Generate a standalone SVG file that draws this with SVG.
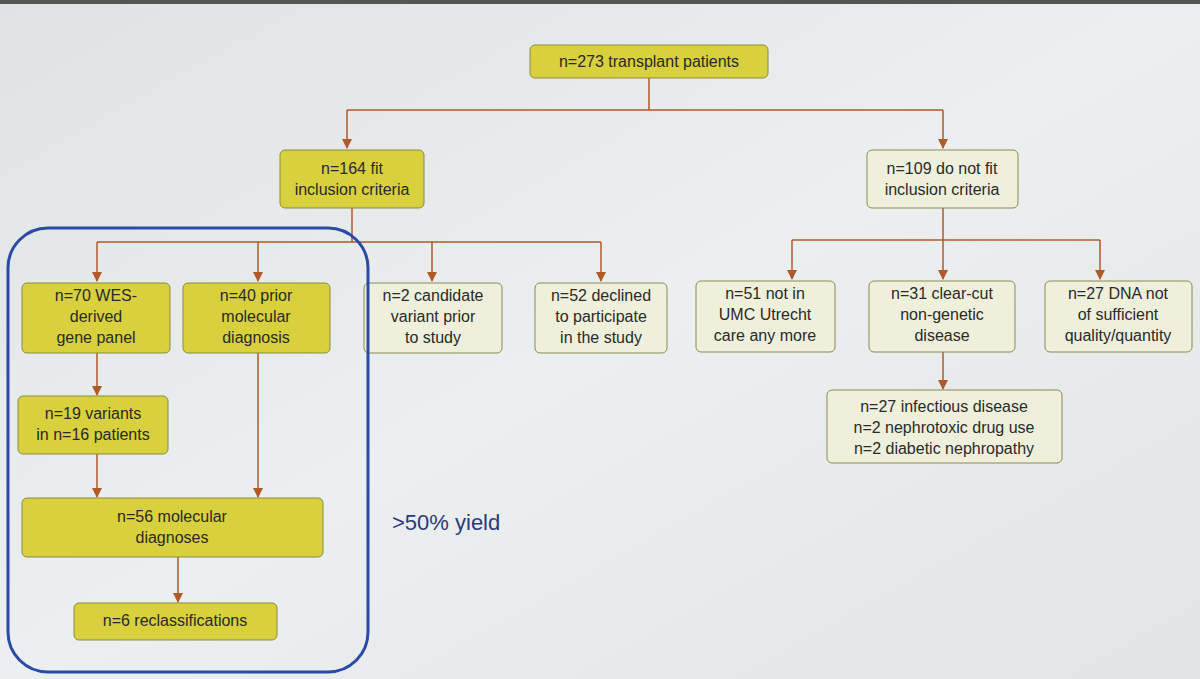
<svg xmlns="http://www.w3.org/2000/svg" width="1200" height="679" viewBox="0 0 1200 679">
<defs>
<linearGradient id="bg" x1="0" y1="0" x2="1" y2="1"><stop offset="0" stop-color="#dfe3e3"/><stop offset="0.5" stop-color="#eceff0"/><stop offset="1" stop-color="#e2e5e6"/></linearGradient>
<marker id="ar" viewBox="0 0 10 10" refX="9" refY="5" markerWidth="7" markerHeight="7" orient="auto"><path d="M0,0 L10,5 L0,10 z" fill="#b05a2a"/></marker>
<style>
.y{fill:#d8d03c;stroke:#8a8a40;stroke-width:1}
.p{fill:#eef0db;stroke:#8a8a50;stroke-width:1}
text{font-family:"Liberation Sans",Arial,sans-serif;font-size:16px;fill:#2a2a2a;text-anchor:middle}
.c path{fill:none;stroke:#b05a2a;stroke-width:1.5}
.c .a{marker-end:url(#ar)}
</style>
</defs>
<rect width="1200" height="679" fill="url(#bg)"/>
<rect x="0" y="0" width="1200" height="4" fill="#555"/>
<g class="c">
<path d="M649,78 V110 M347,110 H943"/>
<path class="a" d="M347,110 V148"/><path class="a" d="M943,110 V148"/>
<path d="M352,208 V242 M97,242 H601"/>
<path class="a" d="M97,242 V281"/><path class="a" d="M258,242 V281"/><path class="a" d="M432,242 V281"/><path class="a" d="M601,242 V281"/>
<path d="M943,208 V240 M792,240 H1100"/>
<path class="a" d="M792,240 V279"/><path class="a" d="M943,240 V279"/><path class="a" d="M1100,240 V279"/>
<path class="a" d="M943,352 V389"/>
<path class="a" d="M97,353 V395"/>
<path class="a" d="M97,454 V497"/><path class="a" d="M258,353 V497"/>
<path class="a" d="M178,557 V602"/>
</g>
<g id="n273"><rect class="y" x="530" y="45" width="238" height="33" rx="5"/><text x="649" y="67">n=273 transplant patients</text></g>
<g id="n164"><rect class="y" x="280" y="150" width="144" height="58" rx="5"/><text x="352" y="174">n=164 fit</text><text x="352" y="195">inclusion criteria</text></g>
<g id="n109"><rect class="p" x="867" y="150" width="151" height="58" rx="5"/><text x="942" y="174">n=109 do not fit</text><text x="942" y="195">inclusion criteria</text></g>
<g id="n70"><rect class="y" x="22" y="283" width="148" height="70" rx="5"/><text x="96" y="301">n=70 WES-</text><text x="96" y="322">derived</text><text x="96" y="343">gene panel</text></g>
<g id="n40"><rect class="y" x="183" y="283" width="147" height="70" rx="5"/><text x="256" y="301">n=40 prior</text><text x="256" y="322">molecular</text><text x="256" y="343">diagnosis</text></g>
<g id="n2"><rect class="p" x="364" y="283" width="138" height="70" rx="5"/><text x="433" y="301">n=2 candidate</text><text x="433" y="322">variant prior</text><text x="433" y="343">to study</text></g>
<g id="n52"><rect class="p" x="535" y="283" width="132" height="70" rx="5"/><text x="601" y="301">n=52 declined</text><text x="601" y="322">to participate</text><text x="601" y="343">in the study</text></g>
<g id="n51"><rect class="p" x="696" y="281" width="139" height="71" rx="5"/><text x="765" y="299">n=51 not in</text><text x="765" y="320">UMC Utrecht</text><text x="765" y="341">care any more</text></g>
<g id="n31"><rect class="p" x="869" y="281" width="146" height="71" rx="5"/><text x="942" y="299">n=31 clear-cut</text><text x="942" y="320">non-genetic</text><text x="942" y="341">disease</text></g>
<g id="n27"><rect class="p" x="1045" y="281" width="147" height="71" rx="5"/><text x="1118" y="299">n=27 DNA not</text><text x="1118" y="320">of sufficient</text><text x="1118" y="341">quality/quantity</text></g>
<g id="ninf"><rect class="p" x="827" y="390" width="235" height="73" rx="5"/><text x="944" y="412">n=27 infectious disease</text><text x="944" y="433">n=2 nephrotoxic drug use</text><text x="944" y="454">n=2 diabetic nephropathy</text></g>
<g id="n19"><rect class="y" x="18" y="396" width="150" height="58" rx="5"/><text x="93" y="419" >n=19 variants</text><text x="93" y="440">in n=16 patients</text></g>
<g id="n56"><rect class="y" x="22" y="498" width="301" height="59" rx="5"/><text x="172" y="522">n=56 molecular</text><text x="172" y="543">diagnoses</text></g>
<g id="n6"><rect class="y" x="74" y="603" width="203" height="37" rx="5"/><text x="175" y="626">n=6 reclassifications</text></g>
<rect x="8" y="228" width="360" height="444" rx="40" fill="none" stroke="#2b4aa8" stroke-width="3"/>
<text x="392" y="530" style="font-size:22px;fill:#2a3a7a;text-anchor:start">&gt;50% yield</text>
</svg>
